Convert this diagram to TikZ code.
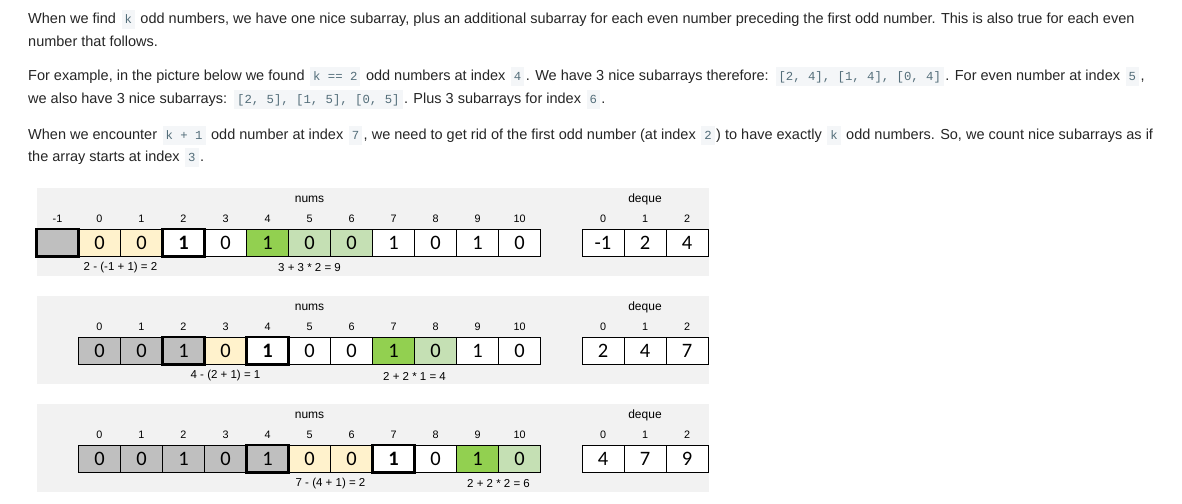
\documentclass[tikz,border=0pt]{standalone}
\usepackage{fontspec}
\setmainfont{Liberation Sans}
\newfontfamily\codefont{Liberation Mono}
\newfontfamily\cellfont{Carlito}
\newfontfamily\labfont{Liberation Sans}
\definecolor{txt}{RGB}{38,38,38}
\definecolor{codefg}{RGB}{84,110,122}
\definecolor{codebg}{RGB}{244,246,248}
\definecolor{panelbg}{RGB}{242,242,242}
\definecolor{cgray}{RGB}{191,191,191}
\definecolor{cyellow}{RGB}{255,242,204}
\definecolor{cgreen}{RGB}{146,208,80}
\definecolor{clgreen}{RGB}{197,224,180}
\newcommand\code[1]{{\hspace{1.5pt}\setlength\fboxsep{0pt}\colorbox{codebg}{\hspace{3pt}\rule[-5.5pt]{0pt}{19pt}{\codefont\fontsize{12.3}{14}\selectfont\color{codefg}#1}\hspace{3pt}}\hspace{1.5pt}}}
\tikzset{
  para/.style={anchor=base west, inner sep=0, text=txt, font=\fontsize{14.5}{22}\selectfont},
  cell/.style={draw=black, line width=0.8pt, minimum width=42pt, minimum height=27.6pt, inner sep=0, outer sep=0, font=\cellfont\fontsize{20.5}{22}\selectfont},
  thickcell/.style={draw=black, line width=2.6pt},
  idx/.style={inner sep=0, font=\labfont\fontsize{10.8}{12}\selectfont},
  ttl/.style={inner sep=0, font=\labfont\fontsize{12}{14}\selectfont},
  formula/.style={inner sep=0, font=\labfont\fontsize{11.5}{14}\selectfont},
}
\newcommand\drawpanel[6]{%
  \fill[panelbg] (36.5,#2) rectangle (708.5,#2+88);
  \node[ttl] (#1nums) at (309.5,#2+11) {nums};
  \node[ttl] (#1deque) at (645,#2+11) {deque};
  \foreach \k/\v/\f/\b in {#3} {
    \pgfmathtruncatemacro\lab{\k-1}
    \node[idx] (#1i\k) at ({57.5+42*\k},#2+31) {\lab};
    \node[cell, fill=\f] (#1c\k) at ({57.5+42*\k},#2+54.8) {\ifnum\b=1\bfseries\fi\v};
  }
  \foreach \k in {#4} \draw[thickcell] (#1c\k.south west) rectangle (#1c\k.north east);
  \foreach \v [count=\j from 0] in {#5} {
    \node[idx] (#1di\j) at ({603+42*\j},#2+31) {\j};
    \node[cell, fill=white] (#1d\j) at ({603+42*\j},#2+54.8) {\v};
  }
  \foreach \x/\s [count=\j] in {#6} \node[formula] (#1f\j) at (\x,#2+80) {\s};
}
\begin{document}
\begin{tikzpicture}[x=1pt,y=-1pt]
\fill[white] (0,0) rectangle (1182,503);
\useasboundingbox (0,0) rectangle (1182,503);
\node[para] (t1) at (28,24) {When we find \code{k} odd numbers, we have one nice subarray, plus an additional subarray for each even number preceding the first odd number. This is also true for each even};
\node[para] (t2) at (28,46) {number that follows.};
\node[para] (t3) at (28,81) {For example, in the picture below we found \code{k == 2} odd numbers at index \code{4}. We have 3 nice subarrays therefore: \code{[2, 4], [1, 4], [0, 4]}. For even number at index \code{5},};
\node[para] (t4) at (28,103) {we also have 3 nice subarrays: \code{[2, 5], [1, 5], [0, 5]}. Plus 3 subarrays for index \code{6}.};
\node[para] (t5) at (28,139) {When we encounter \code{k + 1} odd number at index \code{7}, we need to get rid of the first odd number (at index \code{2}) to have exactly \code{k} odd numbers. So, we count nice subarrays as if};
\node[para] (t6) at (28,161) {the array starts at index \code{3}.};
\drawpanel{a}{188}{0/{}/cgray/0, 1/0/cyellow/0, 2/0/cyellow/0, 3/1/white/1, 4/0/white/0, 5/1/cgreen/0, 6/0/clgreen/0, 7/0/clgreen/0, 8/1/white/0, 9/0/white/0, 10/1/white/0, 11/0/white/0}{0,3}{-1,2,4}{120.5/2 - (-1 + 1) = 2, 309.5/3 + 3 * 2 = 9}
\drawpanel{b}{296}{1/0/cgray/0, 2/0/cgray/0, 3/1/cgray/0, 4/0/cyellow/0, 5/1/white/1, 6/0/white/0, 7/0/white/0, 8/1/cgreen/0, 9/0/clgreen/0, 10/1/white/0, 11/0/white/0}{3,5}{2,4,7}{225.5/4 - (2 + 1) = 1, 414.5/2 + 2 * 1 = 4}
\drawpanel{c}{404}{1/0/cgray/0, 2/0/cgray/0, 3/1/cgray/0, 4/0/cgray/0, 5/1/cgray/0, 6/0/cyellow/0, 7/0/cyellow/0, 8/1/white/1, 9/0/white/0, 10/1/cgreen/0, 11/0/clgreen/0}{5,8}{4,7,9}{330.5/7 - (4 + 1) = 2, 498.5/2 + 2 * 2 = 6}
\end{tikzpicture}
\end{document}
